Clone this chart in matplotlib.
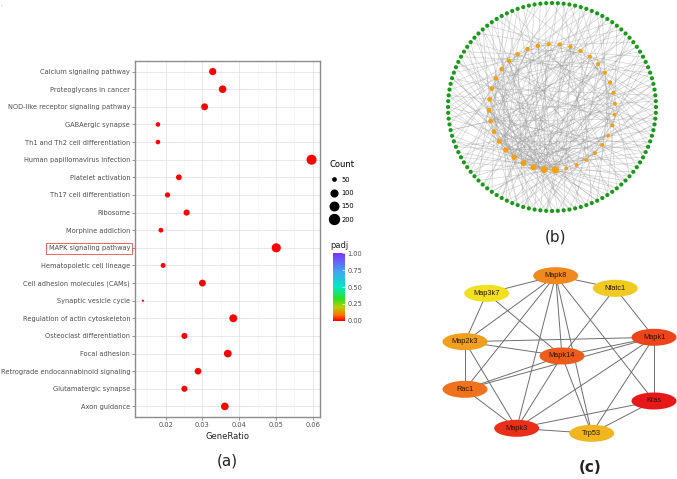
import numpy as np
import matplotlib
matplotlib.use('Agg')
import matplotlib.pyplot as plt
from matplotlib.colors import LinearSegmentedColormap, Normalize
from matplotlib.collections import LineCollection
from matplotlib.lines import Line2D
from matplotlib.patches import Ellipse
import matplotlib as mpl

# ---- panel (a): KEGG enrichment dot plot ----
pathways = [
    'Calcium signaling pathway', 'Proteoglycans in cancer',
    'NOD-like receptor signaling pathway', 'GABAergic synapse',
    'Th1 and Th2 cell differentiation', 'Human papillomavirus infection',
    'Platelet activation', 'Th17 cell differentiation', 'Ribosome',
    'Morphine addiction', 'MAPK signaling pathway', 'Hematopoietic cell lineage',
    'Cell adhesion molecules (CAMs)', 'Synaptic vesicle cycle',
    'Regulation of actin cytoskeleton', 'Osteoclast differentiation',
    'Focal adhesion', 'Retrograde endocannabinoid signaling',
    'Glutamatergic synapse', 'Axon guidance',
]
gene_ratio = [0.0328, 0.0355, 0.0306, 0.0179, 0.0179, 0.0597, 0.0236, 0.0205,
              0.0257, 0.0187, 0.0501, 0.0193, 0.0300, 0.0138, 0.0384, 0.0251,
              0.0369, 0.0288, 0.0251, 0.0361]
counts = [112, 121, 104, 61, 61, 203, 80, 70, 87, 64, 170, 66, 102, 47, 131, 85,
          125, 98, 85, 123]
padj = [1e-4, 2e-4, 5e-4, 1e-3, 1e-3, 1e-6, 3e-4, 8e-4, 2e-3, 1e-3, 1e-7, 2e-3,
        6e-4, 4e-3, 1e-4, 9e-4, 1e-4, 7e-4, 1e-3, 2e-4]
count_breaks = [50, 100, 150, 200]
padj_breaks = [0.0, 0.25, 0.5, 0.75, 1.0]
x_ticks = [0.02, 0.03, 0.04, 0.05, 0.06]
x_minor = [0.015, 0.025, 0.035, 0.045, 0.055]
highlight = 'MAPK signaling pathway'

# ---- panel (b): circular network ----
n_outer = 112
inner_degree = [30, 28, 22, 20, 17, 16, 14, 13, 12, 12, 11, 11, 10, 10, 10, 9, 9, 9,
                8, 8, 8, 8, 7, 7, 7, 7, 6, 6, 6, 6, 5, 5, 5, 5, 5, 4]
inner_links = [
    [2, 9, 15, 22, 31, 38, 44, 51, 57, 63, 70, 76, 83, 89, 95, 101, 107, 5, 27, 48, 66, 92],
    [4, 11, 18, 25, 33, 40, 47, 54, 61, 68, 74, 81, 87, 94, 100, 106, 111, 29, 58],
    [1, 13, 24, 36, 45, 56, 67, 78, 85, 97, 104, 20, 42, 72, 91, 110],
    [7, 19, 30, 43, 52, 64, 75, 88, 99, 109, 16, 37, 60],
    [3, 14, 28, 41, 53, 65, 79, 93, 102, 23, 50, 84],
    [8, 21, 35, 49, 62, 77, 90, 103, 32, 69, 12],
    [6, 17, 34, 46, 59, 73, 86, 98, 26, 55],
    [10, 24, 39, 57, 71, 82, 96, 108, 44],
    [0, 15, 30, 48, 63, 80, 95, 105, 35],
    [12, 27, 42, 58, 74, 89, 104, 52],
    [5, 20, 38, 53, 70, 86, 99, 62],
    [9, 26, 41, 60, 77, 92, 109],
    [2, 18, 33, 50, 67, 84, 101],
    [14, 31, 47, 64, 81, 97, 110],
    [7, 22, 40, 56, 73, 90, 106],
    [11, 29, 45, 61, 78, 94],
    [4, 19, 36, 55, 72, 88],
    [16, 34, 51, 68, 85, 103],
    [1, 23, 43, 59, 79, 98],
    [13, 28, 46, 65, 83, 100],
    [6, 25, 39, 54, 71, 91],
    [10, 32, 49, 66, 87, 107],
    [3, 21, 37, 57, 76],
    [17, 35, 52, 69, 93],
    [8, 27, 44, 63, 82],
    [15, 30, 48, 75, 96],
    [0, 22, 41, 61, 80],
    [12, 33, 53, 72, 102],
    [5, 24, 46, 67, 89],
    [18, 38, 58, 77, 105],
    [9, 29, 50, 71],
    [14, 36, 60, 84],
    [20, 42, 64, 92],
    [2, 26, 55, 78],
    [11, 34, 62, 86],
    [7, 31, 57, 99],
]
inner_pairs = [(0, 9), (0, 17), (0, 25), (1, 11), (1, 20), (1, 30), (2, 14), (2, 23),
               (3, 12), (3, 27), (4, 18), (4, 31), (5, 15), (5, 26), (6, 21), (7, 16),
               (7, 33), (8, 24), (9, 19), (10, 28), (11, 22), (12, 34), (13, 29),
               (14, 32), (0, 5), (1, 3), (2, 7), (0, 2), (1, 6), (3, 20), (4, 10)]

# ---- panel (c): hub genes ----
hub_genes = ['Kras', 'Mapk3', 'Mapk1', 'Mapk14', 'Rac1', 'Mapk8', 'Map2k3',
             'Trp53', 'Nfatc1', 'Map3k7']
hub_rank = [1, 2, 3, 4, 5, 6, 7, 8, 9, 10]
hub_edges = [
    ('Mapk8', 'Nfatc1'), ('Mapk8', 'Map3k7'), ('Mapk8', 'Map2k3'), ('Mapk8', 'Rac1'),
    ('Mapk8', 'Mapk14'), ('Mapk8', 'Kras'), ('Mapk8', 'Trp53'), ('Mapk8', 'Mapk3'),
    ('Map3k7', 'Map2k3'), ('Map3k7', 'Mapk14'), ('Nfatc1', 'Mapk14'), ('Nfatc1', 'Mapk1'),
    ('Map2k3', 'Mapk1'), ('Map2k3', 'Mapk14'), ('Map2k3', 'Rac1'), ('Map2k3', 'Mapk3'),
    ('Mapk14', 'Mapk1'), ('Rac1', 'Mapk1'), ('Rac1', 'Mapk14'), ('Rac1', 'Mapk3'),
    ('Mapk1', 'Kras'), ('Mapk1', 'Mapk3'), ('Mapk1', 'Trp53'), ('Mapk14', 'Mapk3'),
    ('Mapk14', 'Trp53'), ('Mapk3', 'Trp53'), ('Mapk3', 'Kras'), ('Kras', 'Trp53'),
]
# layout of the hub network (figure pixels)
hub_layout = {
    'Mapk8': (555.7, 275.7), 'Nfatc1': (615.3, 288.3), 'Map3k7': (486.7, 293.3),
    'Map2k3': (465.0, 341.7), 'Mapk1': (654.0, 337.3), 'Mapk14': (562.0, 356.0),
    'Rac1': (465.0, 389.3), 'Kras': (654.0, 401.0), 'Mapk3': (516.7, 428.3),
    'Trp53': (591.7, 433.3),
}

W, H = 677, 479
def fx(px): return px / W
def fy(py): return 1 - py / H

fig = plt.figure(figsize=(W / 100, H / 100), dpi=100)
plt.rcParams['font.family'] = ['DejaVu Sans']

padj_cmap = LinearSegmentedColormap.from_list('padj', [
    (0.0, '#FF0000'), (0.08, '#FF7000'), (0.2, '#B8D000'), (0.32, '#30E020'),
    (0.5, '#00E8C0'), (0.72, '#40A8F0'), (1.0, '#8030FF')])
norm = Normalize(0, 1)

cmin, cmax = min(counts), max(counts)
def dot_diam(c):
    # ggplot-like area scale, diameter in points
    return 1.6 + (7.2 - 1.6) * np.sqrt(np.clip((np.asarray(c) - cmin) / (cmax - cmin), 0, 1))

ax = fig.add_axes([fx(135), fy(417), fx(320) - fx(135), fy(61) - fy(417)])
ypos = np.arange(len(pathways))
ax.scatter(gene_ratio, ypos, s=dot_diam(counts) ** 2, c=padj, cmap=padj_cmap, norm=norm,
           edgecolors='none', zorder=3)
ax.set_ylim(len(pathways) - 1 + 0.6, -0.6)
ax.set_xlim(0.01166, 0.0620)
ax.set_xticks(x_ticks)
ax.set_xticks(x_minor, minor=True)
ax.set_xticklabels([f'{v:.2f}' for v in x_ticks])
ax.set_yticks(ypos, labels=pathways)
ax.grid(which='major', color='#e4e4e4', lw=0.6, zorder=0)
ax.grid(which='minor', axis='x', color='#f1f1f1', lw=0.4, zorder=0)
ax.set_axisbelow(True)
ax.tick_params(which='major', length=2, width=0.5, color='#666666', labelsize=4.8,
               labelcolor='#4d4d4d', pad=1.5)
ax.tick_params(which='minor', length=0)
for s in ax.spines.values():
    s.set_color('#8c8c8c')
    s.set_linewidth(1.0)
ax.set_xlabel('GeneRatio', fontsize=6, color='#222222', labelpad=3)
for lbl in ax.get_yticklabels():
    if lbl.get_text() == highlight:
        lbl.set_bbox(dict(facecolor='none', edgecolor='#e05050', lw=0.6, pad=1.6))

# size legend
handles = [Line2D([], [], marker='o', ls='', markersize=float(dot_diam(c)),
                  markerfacecolor='black', markeredgecolor='black') for c in count_breaks]
fig.legend(handles, [str(c) for c in count_breaks], title='Count', loc='upper left',
           bbox_to_anchor=(fx(326), fy(157)), frameon=False, fontsize=4.8, title_fontsize=6,
           labelspacing=1.1, handlelength=1.3, handletextpad=0.5, borderpad=0,
           alignment='left')

# colour bar
fig.text(fx(330), fy(246), 'padj', fontsize=6, color='#222222', va='center')
cax = fig.add_axes([fx(332.7), fy(320.7), 12.3 / W, 67.4 / H])
cb = mpl.colorbar.ColorbarBase(cax, cmap=padj_cmap, norm=norm, ticks=padj_breaks)
cb.outline.set_visible(False)
cax.set_yticklabels([f'{v:.2f}' for v in padj_breaks])
cax.tick_params(length=2, width=0.5, color='white', direction='in', labelsize=4.8,
                labelcolor='#4d4d4d', pad=2)

fig.text(fx(227), fy(461), '(a)', fontsize=11, ha='center', va='center', color='#222222')
fig.text(fx(1), fy(6), ',', fontsize=4, color='#888888')

# ---- panel (b) ----
R_OUT, R_IN = 104, 63
axb = fig.add_axes([fx(552 - 118), fy(107 + 118), 236 / W, 236 / H])
axb.set_xlim(-118, 118)
axb.set_ylim(-118, 118)
axb.axis('off')
th_out = np.deg2rad(np.arange(n_outer) * 360.0 / n_outer)
outer_xy = np.column_stack([R_OUT * np.sin(th_out), R_OUT * np.cos(th_out)])
th_in = np.deg2rad(177 + np.arange(len(inner_degree)) * 360.0 / len(inner_degree))
inner_xy = np.column_stack([R_IN * np.sin(th_in), R_IN * np.cos(th_in)])

segs = []
for i, targets in enumerate(inner_links):
    for t in targets:
        segs.append([inner_xy[i], outer_xy[t % n_outer]])
for a, b in inner_pairs:
    segs.append([inner_xy[a], inner_xy[b]])
axb.add_collection(LineCollection(segs, colors='#9a9a9a', linewidths=0.5, alpha=0.42,
                                  zorder=1))
axb.scatter(outer_xy[:, 0], outer_xy[:, 1], s=9, color='#1a9a1a', edgecolors='none',
            zorder=3)
deg = np.array(inner_degree, dtype=float)
in_size = (2.7 + 2.5 * (deg - deg.min()) / (deg.max() - deg.min())) ** 2
axb.scatter(inner_xy[:, 0], inner_xy[:, 1], s=in_size, color='#f5a010', edgecolors='none',
            zorder=3)
fig.text(fx(556), fy(237), '(b)', fontsize=11, ha='center', va='center', color='#222222')

# ---- panel (c) ----
axc = fig.add_axes([fx(425), fy(460), (677 - 425) / W, (460 - 250) / H])
axc.set_xlim(425, 677)
axc.set_ylim(460, 250)
axc.axis('off')
hub_cmap = LinearSegmentedColormap.from_list('hub', ['#E81818', '#F07E1E', '#F0E020'])
for a, b in hub_edges:
    (x1, y1), (x2, y2) = hub_layout[a], hub_layout[b]
    axc.plot([x1, x2], [y1, y2], color='#6e6e6e', lw=0.7, zorder=1)
rmin, rmax = min(hub_rank), max(hub_rank)
for g, r in zip(hub_genes, hub_rank):
    x, y = hub_layout[g]
    col = hub_cmap((r - rmin) / (rmax - rmin))
    axc.add_patch(Ellipse((x, y), 45, 17, facecolor=col, edgecolor='none', zorder=2))
    axc.text(x, y, g, fontsize=5.3, family='Liberation Sans', ha='center', va='center',
             color='#2a1500', zorder=3)
fig.text(fx(590), fy(467), '(c)', fontsize=11, fontweight='bold', ha='center',
         va='center', color='#222222')

fig.savefig('out.png', dpi=100)
